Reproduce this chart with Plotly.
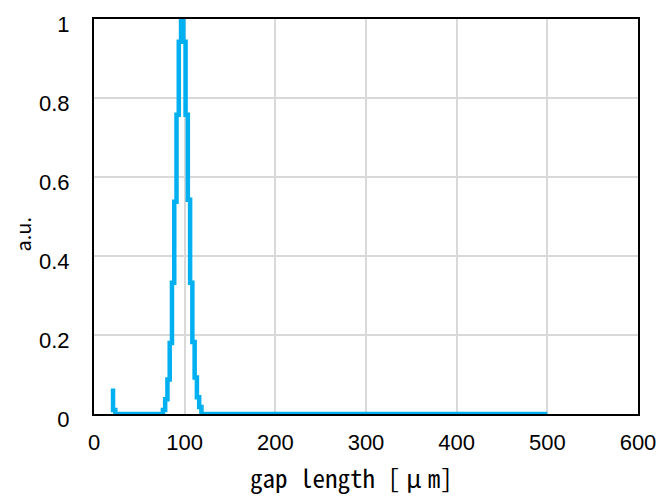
import plotly.graph_objects as go

# Histogram bin left edges (um) and normalised counts, drawn as a step outline
gap_um = [18.5, 21.0, 23.5, 76.0, 78.5, 81.0, 83.5, 86.0, 88.5, 91.0, 93.5,
          96.0, 98.5, 101.0, 103.5, 106.0, 108.5, 111.0, 113.5, 116.0, 118.5, 500.0]
intensity = [0.059, 0.010, 0.0, 0.010, 0.0375, 0.0875, 0.180, 0.3325, 0.5375,
             0.7575, 0.9425, 1.0, 0.9425, 0.7575, 0.5425, 0.3325, 0.1825,
             0.0925, 0.0425, 0.0175, 0.0, 0.0]

x_ticks = [0, 100, 200, 300, 400, 500, 600]
y_ticks = [0, 0.2, 0.4, 0.6, 0.8, 1]
y_title = "a.u."

num_font = "Liberation Sans, Arial, sans-serif"
mono_font = "Noto Sans Mono CJK JP, Noto Sans CJK JP, monospace"
cjk_font = "Noto Sans CJK JP, sans-serif"

# x-axis title; extra tracking around the Greek mu gives it a full-width cell
x_title = 'gap length <span style="letter-spacing:6px">[μ</span>m]'

fig = go.Figure()
fig.add_trace(go.Scatter(
    x=gap_um, y=intensity, mode="lines",
    line=dict(color="#00B0F0", width=4.5, shape="hv"),
    showlegend=False, hoverinfo="skip",
))

axis_common = dict(
    showline=True, linecolor="black", linewidth=2, mirror=True,
    showgrid=True, gridcolor="#d9d9d9", gridwidth=2,
    zeroline=False, ticks="",
    tickfont=dict(family=num_font, size=22, color="black"),
)

fig.update_xaxes(range=[0, 600], tickvals=x_ticks, ticklabelstandoff=8, **axis_common)
fig.update_yaxes(range=[0, 1], tickvals=y_ticks, ticklabelstandoff=18,
                 ticklabelshift=5, **axis_common)

fig.add_annotation(text=x_title, xref="paper", yref="paper",
                   x=0.473, y=-0.16, xanchor="center", yanchor="middle",
                   showarrow=False,
                   font=dict(family=mono_font, size=25, color="black"))
fig.add_annotation(text=y_title, xref="paper", yref="paper",
                   x=-0.132, y=0.455, xanchor="center", yanchor="middle",
                   textangle=-90, showarrow=False,
                   font=dict(family=cjk_font, size=20, color="black"))

fig.update_layout(
    width=668, height=497,
    margin=dict(l=94, r=23, t=14, b=83),
    paper_bgcolor="white", plot_bgcolor="white",
)

fig.write_html("out.html")
